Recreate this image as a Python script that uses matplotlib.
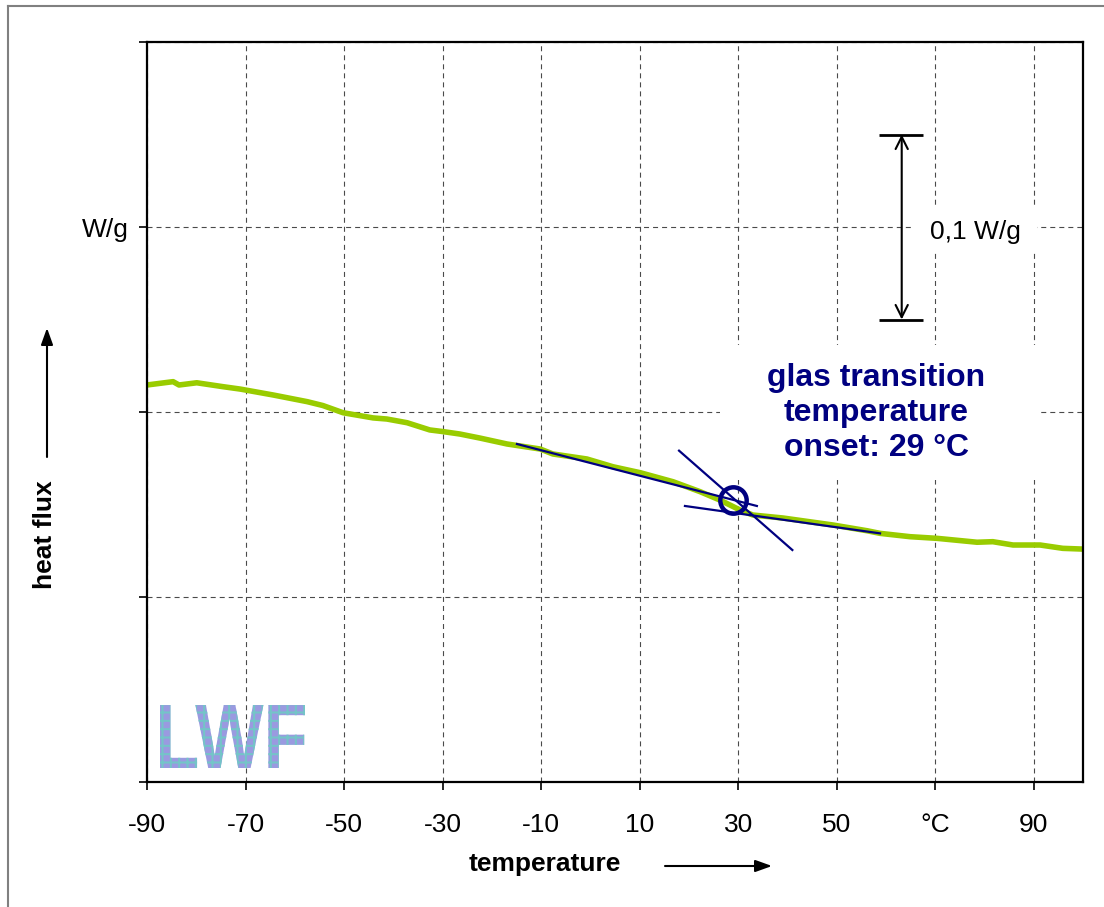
import matplotlib
matplotlib.use("Agg")
import matplotlib.pyplot as plt
from matplotlib.textpath import TextPath
from matplotlib.font_manager import FontProperties
from matplotlib.patches import PathPatch, Rectangle
from matplotlib.transforms import Affine2D
from matplotlib.lines import Line2D

plt.rcParams['font.family'] = ['Liberation Sans', 'DejaVu Sans']
plt.rcParams['lines.scale_dashes'] = False

# DSC curve (temperature in degC, heat flux in W/g, relative offset)
temp = [-90.0, -84.7, -83.5, -79.9, -74.6, -71.1, -64.4, -57.5, -54.3, -50.2,
        -44.1, -41.3, -37.2, -32.6, -29.9, -26.5, -22.4, -16.9, -10.2, -7.6,
        -0.7, 4.6, 10.1, 16.8, 22.3, 26.3, 30.4, 33.0, 39.1, 49.3,
        56.2, 58.8, 64.9, 70.4, 78.5, 81.7, 85.8, 91.3, 95.9, 100.0]
heat_flux = [0.2146, 0.2164, 0.2146, 0.2158, 0.2137, 0.2124, 0.2092, 0.2056, 0.2035, 0.1996,
             0.1968, 0.1962, 0.1942, 0.1903, 0.1894, 0.1881, 0.1859, 0.1827, 0.1800, 0.1773,
             0.1746, 0.1704, 0.1672, 0.1623, 0.1569, 0.1524, 0.1470, 0.1443, 0.1427, 0.1389,
             0.1358, 0.1344, 0.1326, 0.1317, 0.1296, 0.1299, 0.1281, 0.1281, 0.1263, 0.1259]

# tangent construction for the onset
base_before_t = [-14.9, 33.8]
base_before_hf = [0.1827, 0.1492]
base_after_t = [19.2, 58.8]
base_after_hf = [0.1492, 0.1344]
inflect_t = [18.0, 41.0]
inflect_hf = [0.1791, 0.1254]
onset = 29

# scale bar
scale_bar = 0.1
scale_base = 0.25
scale_x = 63.2

xticks = list(range(-90, 91, 20))
xlabels = ['-90', '-70', '-50', '-30', '-10', '10', '30', '50', '°C', '90']
yticks = [0.0, 0.1, 0.2, 0.3, 0.4]
ylabels = ['', '', '', 'W/g', '']

W, H = 1104, 907
fig = plt.figure(figsize=(W / 100, H / 100), dpi=100)
ax = fig.add_axes([147 / W, 1 - 782 / H, (1083 - 147) / W, (782 - 42) / H])

ax.set_xlim(-90, 100)
ax.set_ylim(0, 0.4)
ax.set_xticks(xticks)
ax.set_xticklabels(xlabels, fontsize=19)
ax.set_yticks(yticks)
ax.set_yticklabels(ylabels, fontsize=19)
ax.tick_params(direction='out', length=6, width=1.2, color='black')
ax.tick_params(axis='x', pad=16)
ax.tick_params(axis='y', pad=7)
for s in ax.spines.values():
    s.set_linewidth(1.6)
    s.set_color('black')

ax.set_axisbelow(True)
ax.grid(True, color='#4a4a4a', linestyle=(0, (3.6, 2.9)), linewidth=0.8)

# white boxes behind the annotations
ax.add_patch(Rectangle((26.3, 0.1632), 91.3 - 26.3, 0.2362 - 0.1632,
                       facecolor='white', edgecolor='none', zorder=1))
ax.add_patch(Rectangle((65.3, 0.2865), 90.7 - 65.3, 0.3119 - 0.2865,
                       facecolor='white', edgecolor='none', zorder=1))

ax.plot(temp, heat_flux, color='#99cc00', lw=4, zorder=2, solid_capstyle='butt')

navy = '#000080'
ax.plot(base_before_t, base_before_hf, color=navy, lw=1.6, zorder=3)
ax.plot(base_after_t, base_after_hf, color=navy, lw=1.6, zorder=3)
ax.plot(inflect_t, inflect_hf, color=navy, lw=1.6, zorder=3)

# onset point on the extrapolated baseline
slope = (base_before_hf[1] - base_before_hf[0]) / (base_before_t[1] - base_before_t[0])
onset_hf = base_before_hf[0] + slope * (onset - base_before_t[0])
ax.plot([onset], [onset_hf], marker='o', ms=19, mfc='none', mec=navy, mew=3.2, zorder=4)

ax.text(58.0, 0.1995, f'glas transition\ntemperature\nonset: {onset} °C',
        ha='center', va='center', multialignment='center', fontsize=23,
        fontweight='bold', color=navy, linespacing=1.2, zorder=5)

# 0,1 W/g scale bar
ax.annotate('', xy=(scale_x, scale_base + scale_bar), xytext=(scale_x, scale_base),
            arrowprops=dict(arrowstyle='<->', lw=1.5, color='black',
                            shrinkA=0, shrinkB=0, mutation_scale=22), zorder=5)
ax.hlines([scale_base, scale_base + scale_bar], 58.6, 67.5, color='black', lw=2, zorder=5)
ax.text(68.9, 0.2975, f'{scale_bar:.1f} W/g'.replace('.', ','), fontsize=19,
        va='center', ha='left', zorder=5)

# axis titles with direction arrows
fig.text(45 / W, 1 - 535 / H, 'heat flux', rotation=90, fontsize=19,
         fontweight='bold', ha='center', va='center')
fig.text(545 / W, 1 - 864 / H, 'temperature', fontsize=19,
         fontweight='bold', ha='center', va='center')
arrow = dict(arrowstyle='-|>,head_length=0.5,head_width=0.18', lw=1.5,
             color='black', shrinkA=0, shrinkB=0, mutation_scale=20)
ax.annotate('', xy=(47, H - 328), xytext=(47, H - 457), xycoords='figure pixels',
            textcoords='figure pixels', arrowprops=arrow, annotation_clip=False)
ax.annotate('', xy=(772, H - 866), xytext=(665, H - 866), xycoords='figure pixels',
            textcoords='figure pixels', arrowprops=arrow, annotation_clip=False)

# LWF logo
fp = FontProperties(family='Liberation Sans', weight='bold')
tp = TextPath((0, 0), 'LWF', size=1, prop=fp)
ext = tp.get_extents()
tr = (Affine2D().translate(-ext.x0, -ext.y0)
      .scale(145 / ext.width / 100, 63 / ext.height / 100)
      .translate(160 / 100, (H - 768) / 100) + fig.dpi_scale_trans)
plt.rcParams['hatch.linewidth'] = 1.5
logo = PathPatch(tp, transform=tr, facecolor='#9a9ae0', edgecolor='#74c4c8',
                 hatch='++', lw=0)
fig.add_artist(logo)

# outer frame
fig.add_artist(Line2D([8 / W, 1], [1 - 6 / H, 1 - 6 / H], transform=fig.transFigure,
                      color='#808080', lw=1.5))
fig.add_artist(Line2D([8 / W, 8 / W], [0, 1 - 6 / H], transform=fig.transFigure,
                      color='#808080', lw=1.5))

fig.savefig('out.png', dpi=100)
